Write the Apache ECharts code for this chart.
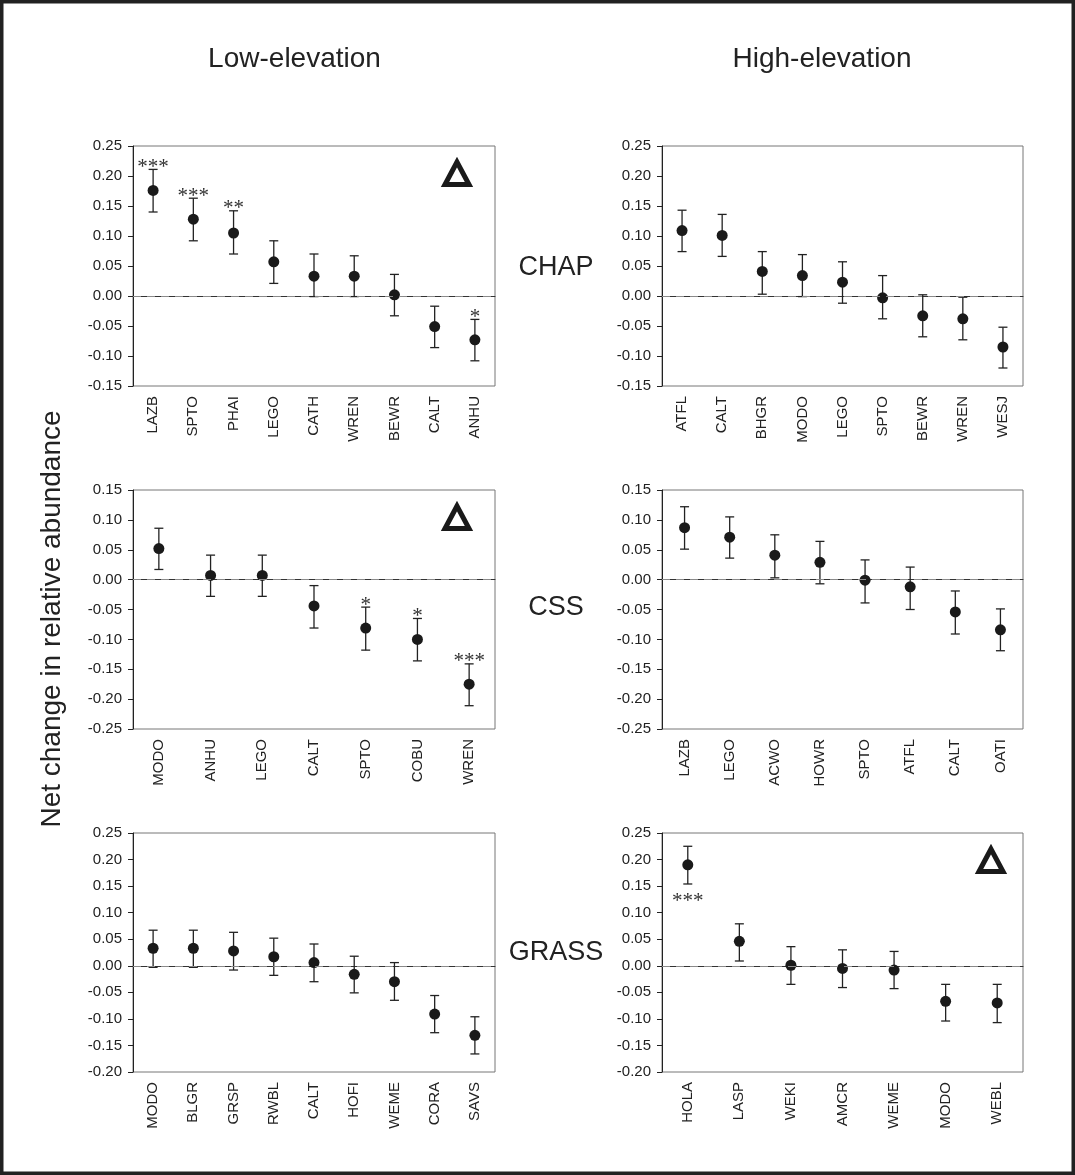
<!DOCTYPE html>
<html><head><meta charset="utf-8">
<script src="https://cdn.jsdelivr.net/npm/echarts@6/dist/echarts.min.js"></script>
<style>html,body{margin:0;padding:0;background:#fff}#c{width:1075px;height:1175px}</style>
</head><body><div id="c"></div>
<script>
// ---- CHAP, low elevation ----
const chapLowCats = ['LAZB','SPTO','PHAI','LEGO','CATH','WREN','BEWR','CALT','ANHU'];
const chapLowMean = [0.176, 0.128, 0.105, 0.057, 0.033, 0.033, 0.002, -0.051, -0.073];
const chapLowLo   = [0.140, 0.092, 0.070, 0.021, -0.001, -0.001, -0.033, -0.086, -0.108];
const chapLowHi   = [0.211, 0.163, 0.142, 0.092, 0.070, 0.067, 0.036, -0.017, -0.039];
const chapLowSig  = ['***','***','**','','','','','','*'];
// ---- CHAP, high elevation ----
const chapHighCats = ['ATFL','CALT','BHGR','MODO','LEGO','SPTO','BEWR','WREN','WESJ'];
const chapHighMean = [0.109, 0.101, 0.041, 0.034, 0.023, -0.003, -0.033, -0.038, -0.085];
const chapHighLo   = [0.074, 0.066, 0.003, -0.001, -0.012, -0.038, -0.068, -0.073, -0.120];
const chapHighHi   = [0.143, 0.136, 0.074, 0.069, 0.057, 0.034, 0.002, -0.002, -0.052];
const chapHighSig  = ['','','','','','','','',''];
// ---- CSS, low elevation ----
const cssLowCats = ['MODO','ANHU','LEGO','CALT','SPTO','COBU','WREN'];
const cssLowMean = [0.052, 0.007, 0.007, -0.044, -0.081, -0.100, -0.175];
const cssLowLo   = [0.017, -0.028, -0.028, -0.081, -0.118, -0.136, -0.211];
const cssLowHi   = [0.086, 0.041, 0.041, -0.010, -0.046, -0.065, -0.141];
const cssLowSig  = ['','','','','*','*','***'];
// ---- CSS, high elevation ----
const cssHighCats = ['LAZB','LEGO','ACWO','HOWR','SPTO','ATFL','CALT','OATI'];
const cssHighMean = [0.087, 0.071, 0.041, 0.029, -0.001, -0.012, -0.054, -0.084];
const cssHighLo   = [0.051, 0.036, 0.003, -0.007, -0.039, -0.050, -0.091, -0.119];
const cssHighHi   = [0.122, 0.105, 0.075, 0.064, 0.033, 0.021, -0.019, -0.049];
const cssHighSig  = ['','','','','','','',''];
// ---- GRASS, low elevation ----
const grassLowCats = ['MODO','BLGR','GRSP','RWBL','CALT','HOFI','WEME','CORA','SAVS'];
const grassLowMean = [0.033, 0.033, 0.028, 0.017, 0.006, -0.016, -0.030, -0.091, -0.131];
const grassLowLo   = [-0.003, -0.003, -0.008, -0.018, -0.030, -0.051, -0.065, -0.126, -0.166];
const grassLowHi   = [0.067, 0.067, 0.063, 0.052, 0.041, 0.018, 0.006, -0.056, -0.096];
const grassLowSig  = ['','','','','','','','',''];
// ---- GRASS, high elevation ----
const grassHighCats = ['HOLA','LASP','WEKI','AMCR','WEME','MODO','WEBL'];
const grassHighMean = [0.190, 0.046, 0.001, -0.005, -0.008, -0.067, -0.070];
const grassHighLo   = [0.154, 0.009, -0.035, -0.041, -0.043, -0.104, -0.107];
const grassHighHi   = [0.225, 0.079, 0.036, 0.030, 0.027, -0.035, -0.035];
const grassHighSig  = ['***','','','','','',''];

// y-axis ranges [min, max, interval]
const chapYRange  = [-0.15, 0.25, 0.05];
const cssYRange   = [-0.25, 0.15, 0.05];
const grassYRange = [-0.20, 0.25, 0.05];

const colTitles   = ['Low-elevation', 'High-elevation'];
const rowLabels   = ['CHAP', 'CSS', 'GRASS'];
const yAxisTitle  = 'Net change in relative abundance';

const FONT = '"Liberation Sans", Arial, Helvetica, sans-serif';
const INK = '#222';

const panels = [
  {cats: chapLowCats,  mean: chapLowMean,  lo: chapLowLo,  hi: chapLowHi,  sig: chapLowSig,  y: chapYRange,  tri: true},
  {cats: chapHighCats, mean: chapHighMean, lo: chapHighLo, hi: chapHighHi, sig: chapHighSig, y: chapYRange},
  {cats: cssLowCats,   mean: cssLowMean,   lo: cssLowLo,   hi: cssLowHi,   sig: cssLowSig,   y: cssYRange,  tri: true},
  {cats: cssHighCats,  mean: cssHighMean,  lo: cssHighLo,  hi: cssHighHi,  sig: cssHighSig,  y: cssYRange},
  {cats: grassLowCats, mean: grassLowMean, lo: grassLowLo, hi: grassLowHi, sig: grassLowSig, y: grassYRange},
  {cats: grassHighCats,mean: grassHighMean,lo: grassHighLo,hi: grassHighHi,sig: grassHighSig,y: grassYRange, tri: true, starsBelow: true}
];

const gridBoxes = [
  {left: 133, top: 146, width: 362, height: 240},
  {left: 662, top: 146, width: 361, height: 240},
  {left: 133, top: 490, width: 362, height: 239},
  {left: 662, top: 490, width: 361, height: 239},
  {left: 133, top: 833, width: 362, height: 239},
  {left: 662, top: 833, width: 361, height: 239}
];

const grid = [], xAxis = [], yAxis = [], series = [], graphic = [];

panels.forEach((p, k) => {
  const g = gridBoxes[k];
  grid.push(Object.assign({show: true, borderColor: '#777', borderWidth: 1, backgroundColor: '#fff', containLabel: false}, g));
  xAxis.push({
    type: 'category', gridIndex: k, data: p.cats, boundaryGap: true,
    axisLine: {show: true, lineStyle: {color: '#333', width: 1}},
    axisTick: {show: false},
    axisLabel: {rotate: 90, fontSize: 15, margin: 10, color: INK, fontFamily: FONT, interval: 0},
    splitLine: {show: false}
  });
  yAxis.push({
    type: 'value', gridIndex: k, min: p.y[0], max: p.y[1], interval: p.y[2],
    axisLine: {show: true, lineStyle: {color: INK, width: 1}},
    axisTick: {show: true, length: 5, lineStyle: {color: INK}},
    axisLabel: {fontSize: 15, margin: 11, color: INK, fontFamily: FONT,
      formatter: v => (Math.abs(v) < 1e-9 ? 0 : v).toFixed(2)},
    splitLine: {show: false}
  });
  // error bars
  series.push({
    type: 'custom', xAxisIndex: k, yAxisIndex: k, silent: true, z: 3,
    data: p.cats.map((c, i) => [i, p.lo[i], p.hi[i]]),
    encode: {x: 0, y: [1, 2]},
    renderItem: (params, api) => {
      const i = api.value(0);
      const a = api.coord([i, api.value(1)]);
      const b = api.coord([i, api.value(2)]);
      const cw = 4.5, st = {stroke: INK, lineWidth: 1.3};
      return {type: 'group', children: [
        {type: 'line', shape: {x1: a[0], y1: a[1], x2: b[0], y2: b[1]}, style: st},
        {type: 'line', shape: {x1: a[0] - cw, y1: a[1], x2: a[0] + cw, y2: a[1]}, style: st},
        {type: 'line', shape: {x1: b[0] - cw, y1: b[1], x2: b[0] + cw, y2: b[1]}, style: st}
      ]};
    }
  });
  // means
  series.push({
    type: 'scatter', xAxisIndex: k, yAxisIndex: k, data: p.mean, symbol: 'circle', symbolSize: 11,
    itemStyle: {color: '#1a1a1a', opacity: 1}, z: 4, silent: true,
    markLine: {silent: true, symbol: 'none', label: {show: false},
      lineStyle: {color: '#8a8a8a', type: [8, 6], width: 1},
      data: [{yAxis: 0}], animation: false}
  });
  // significance stars
  series.push({
    type: 'custom', xAxisIndex: k, yAxisIndex: k, silent: true, z: 5,
    data: p.cats.map((c, i) => [i, p.starsBelow ? p.lo[i] : p.hi[i]]),
    encode: {x: 0, y: 1},
    renderItem: (params, api) => {
      const s = p.sig[params.dataIndex];
      if (!s) return null;
      const pt = api.coord([api.value(0), api.value(1)]);
      const y = p.starsBelow ? pt[1] + 17 : pt[1] - 2;
      return {type: 'text', x: pt[0], y: y,
        style: {text: s, fontSize: 21, fontFamily: '"Liberation Serif", "Times New Roman", serif',
          fill: '#333', align: 'center', verticalAlign: 'middle'}};
    }
  });
  if (p.tri) {
    const cx = g.left + g.width - (k === 5 ? 32 : 38);
    const top = g.top + 13;
    graphic.push({type: 'polygon', shape: {points: [[cx, top + 3], [cx - 12, top + 25.5], [cx + 12, top + 25.5]]},
      style: {fill: 'none', stroke: '#1a1a1a', lineWidth: 5, lineJoin: 'miter', miterLimit: 3}, z: 10});
  }
});

graphic.push({type: 'rect', shape: {x: 1.75, y: 1.75, width: 1071.5, height: 1171.5},
  style: {fill: 'none', stroke: '#222', lineWidth: 3.5}, z: 20});
graphic.push({type: 'text', x: 294.5, y: 59, style: {text: colTitles[0], fontSize: 28, fontFamily: FONT, fill: INK, align: 'center', verticalAlign: 'middle'}});
graphic.push({type: 'text', x: 822, y: 59, style: {text: colTitles[1], fontSize: 28, fontFamily: FONT, fill: INK, align: 'center', verticalAlign: 'middle'}});
graphic.push({type: 'text', x: 556, y: 268, style: {text: rowLabels[0], fontSize: 27, fontFamily: FONT, fill: INK, align: 'center', verticalAlign: 'middle'}});
graphic.push({type: 'text', x: 556, y: 608, style: {text: rowLabels[1], fontSize: 27, fontFamily: FONT, fill: INK, align: 'center', verticalAlign: 'middle'}});
graphic.push({type: 'text', x: 556, y: 953, style: {text: rowLabels[2], fontSize: 27, fontFamily: FONT, fill: INK, align: 'center', verticalAlign: 'middle'}});
graphic.push({type: 'text', x: 52, y: 619, rotation: Math.PI / 2,
  style: {text: yAxisTitle, fontSize: 28, fontFamily: FONT, fill: INK, align: 'center', verticalAlign: 'middle'}});

const chart = echarts.init(document.getElementById('c'), null, {renderer: 'canvas', width: 1075, height: 1175});
chart.setOption({animation: false, backgroundColor: '#fff', grid, xAxis, yAxis, series, graphic});
</script></body></html>
